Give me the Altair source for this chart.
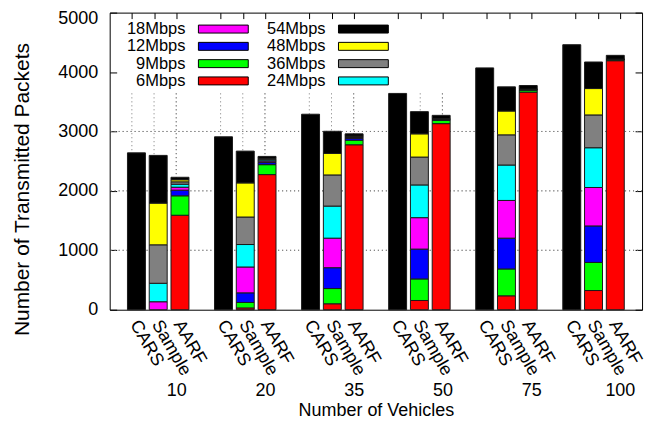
import altair as alt
import pandas as pd

# ---------------- data ----------------
groups = ["10", "20", "35", "50", "75", "100"]
schemes = ["CARS", "Sample", "AARF"]
rates = ["6Mbps", "9Mbps", "12Mbps", "18Mbps", "24Mbps", "36Mbps", "48Mbps", "54Mbps"]
rate_colors = ["#ff0000", "#00ff00", "#0000ff", "#ff00ff", "#00ffff", "#808080", "#ffff00", "#000000"]

cars_54 = [2640, 2910, 3290, 3640, 4070, 4460]

sample = {
    "6Mbps":  [0, 30, 100, 155, 234, 323],
    "9Mbps":  [0, 92, 256, 363, 452, 473],
    "12Mbps": [0, 162, 351, 502, 518, 614],
    "18Mbps": [134, 435, 497, 529, 635, 647],
    "24Mbps": [311, 378, 540, 551, 596, 669],
    "36Mbps": [647, 463, 524, 469, 508, 552],
    "48Mbps": [702, 574, 362, 391, 401, 444],
    "54Mbps": [803, 535, 373, 373, 407, 447],
}

aarf = {
    "6Mbps":  [1590, 2274, 2776, 3132, 3662, 4191],
    "9Mbps":  [327, 167, 77, 55, 34, 15],
    "12Mbps": [95, 35, 30, 10, 5, 3],
    "18Mbps": [50, 25, 15, 5, 3, 2],
    "24Mbps": [50, 20, 10, 5, 3, 2],
    "36Mbps": [40, 15, 10, 5, 3, 2],
    "48Mbps": [35, 10, 5, 5, 3, 2],
    "54Mbps": [42, 34, 37, 54, 60, 64],
}

y_ticks = [0, 1000, 2000, 3000, 4000, 5000]
y_grid = [1000, 2000, 3000]

# key entries, column by column (left column first)
key_order = ["18Mbps", "12Mbps", "9Mbps", "6Mbps", "54Mbps", "48Mbps", "36Mbps", "24Mbps"]

# ---------------- tables ----------------
rows = []
for gi, g in enumerate(groups):
    for si, s in enumerate(schemes):
        slot = gi * 4 + si + 1
        for ri, r in enumerate(rates):
            if s == "CARS":
                v = cars_54[gi] if r == "54Mbps" else 0
            elif s == "Sample":
                v = sample[r][gi]
            else:
                v = aarf[r][gi]
            if v > 0:
                rows.append({"group": g, "scheme": s, "slot": slot, "rate": r,
                             "rank": ri, "value": v})
df = pd.DataFrame(rows)

key_df = pd.DataFrame({
    "rate": key_order,
    "col": [i // 4 for i in range(len(key_order))],
    "row": [i % 4 for i in range(len(key_order))],
})

bar_slots = [gi * 4 + si + 1 for gi in range(len(groups)) for si in range(len(schemes))]
group_slots = [gi * 4 + 3 for gi in range(len(groups))]
slots_df = pd.DataFrame({"slot": bar_slots})
group_df = pd.DataFrame({"slot": group_slots})

W, H = 534, 298
FONT = "Liberation Sans"

xs = alt.Scale(domain=[0, 24], nice=False, zero=False)
ys = alt.Scale(domain=[0, 5000], nice=False)
cs = alt.Scale(domain=rates, range=rate_colors)

scheme_expr = "['" + "','".join(schemes) + "'][(datum.value - 1) % 4]"
group_expr = "['" + "','".join(groups) + "'][(datum.value - 3) / 4]"

GRID = dict(color="#777777", strokeDash=[1, 3], strokeWidth=1)

# horizontal grid + inward ticks on the left side
hgrid_left = alt.Chart(pd.DataFrame({"g": y_grid})).mark_rule(**GRID).encode(
    y=alt.Y("g:Q", scale=ys, axis=alt.Axis(orient="right", offset=-W, values=y_ticks,
                                           labels=False, domain=False, ticks=True, tickSize=7,
                                           tickColor="black", grid=False, title=None))
)
# same grid, carrying inward ticks on the right side
hgrid_right = alt.Chart(pd.DataFrame({"g": y_grid})).mark_rule(**GRID).encode(
    y=alt.Y("g:Q", scale=ys, axis=alt.Axis(orient="left", offset=-W, values=y_ticks,
                                           labels=False, domain=False, ticks=True, tickSize=7,
                                           tickColor="black", grid=False, title=None))
)

# vertical grid below the key, with inward ticks on the top side
vgrid = alt.Chart(slots_df).mark_rule(**GRID).encode(
    x=alt.X("slot:Q", scale=xs, axis=alt.Axis(orient="bottom", offset=-H, values=bar_slots,
                                              labels=False, domain=False, ticks=True, tickSize=6,
                                              tickColor="black", grid=False, title=None)),
    y=alt.value(H),
    y2=alt.value(78),
)

# group labels axis (number of vehicles)
glabels = alt.Chart(group_df).mark_rule(**GRID).encode(
    x=alt.X("slot:Q", scale=xs, axis=alt.Axis(orient="bottom", values=group_slots,
                                              labelExpr=group_expr, labelFontSize=18,
                                              labelPadding=72, ticks=False, tickSize=0,
                                              domain=False, grid=False, labelFlush=False,
                                              labelOverlap=False,
                                              title="Number of Vehicles", titleFontSize=18,
                                              titleFontWeight="normal", titleY=101,
                                              titleBaseline="middle")),
    y=alt.value(H),
    y2=alt.value(78),
)

bars = alt.Chart(df).mark_bar(size=18, stroke="#1a1a1a", strokeWidth=1).encode(
    x=alt.X("slot:Q", scale=xs, axis=alt.Axis(orient="bottom", values=bar_slots,
                                              labelExpr=scheme_expr, labelAngle=60,
                                              labelAlign="left", labelBaseline="top",
                                              labelPadding=7, labelOffset=5, labelFontSize=18,
                                              labelFlush=False, labelOverlap=False,
                                              ticks=False, tickSize=0, domain=False,
                                              grid=False, title=None)),
    y=alt.Y("value:Q", stack="zero", scale=ys,
            axis=alt.Axis(orient="left", values=y_ticks, format="d", ticks=False, tickSize=0,
                          domain=False, grid=False, labelPadding=12, labelFontSize=18,
                          labelOffset={"condition": {"test": "datum.value == 5000", "value": 6},
                                       "value": 0},
                          title="Number of Transmitted Packets", titleFontSize=21,
                          titleFontWeight="normal", titleX=-77, titleY=177)),
    color=alt.Color("rate:N", scale=cs, legend=None),
    order=alt.Order("rank:Q", sort="ascending"),
    tooltip=["group", "scheme", "rate", "value"],
)

# key: swatches and labels placed in a two-column grid
key_x = alt.X("col:Q", scale=alt.Scale(domain=[0, 1], range=[114, 254.5]), axis=None)
key_y = alt.Y("row:Q", scale=alt.Scale(domain=[0, 3], range=[16.5, 68.5]), axis=None)

key_swatch = alt.Chart(key_df).mark_point(
    shape="M-1,-0.16H1V0.16H-1Z", size=2500, filled=True, opacity=1,
    stroke="black", strokeWidth=1
).encode(
    x=key_x, y=key_y,
    color=alt.Color("rate:N", scale=cs, legend=None),
)

key_text = alt.Chart(key_df).mark_text(
    align="right", baseline="middle", dx=-38, fontSize=16.5, font=FONT, color="black"
).encode(
    x=key_x, y=key_y, text="rate:N",
)

chart = alt.layer(
    hgrid_left, hgrid_right, vgrid, glabels, bars, key_swatch, key_text
).resolve_axis(
    x="independent", y="independent"
).resolve_scale(
    x="independent", y="independent"
).properties(
    width=W, height=H,
    autosize=alt.AutoSizeParams(type="none"),
    padding={"left": 102, "top": 4, "right": 15, "bottom": 112},
).configure_axis(
    labelFont=FONT, titleFont=FONT, labelColor="black", titleColor="black"
).configure_view(
    stroke="black", strokeWidth=1
)

chart.save("out.html", embed_options={"renderer": "svg", "actions": False})
